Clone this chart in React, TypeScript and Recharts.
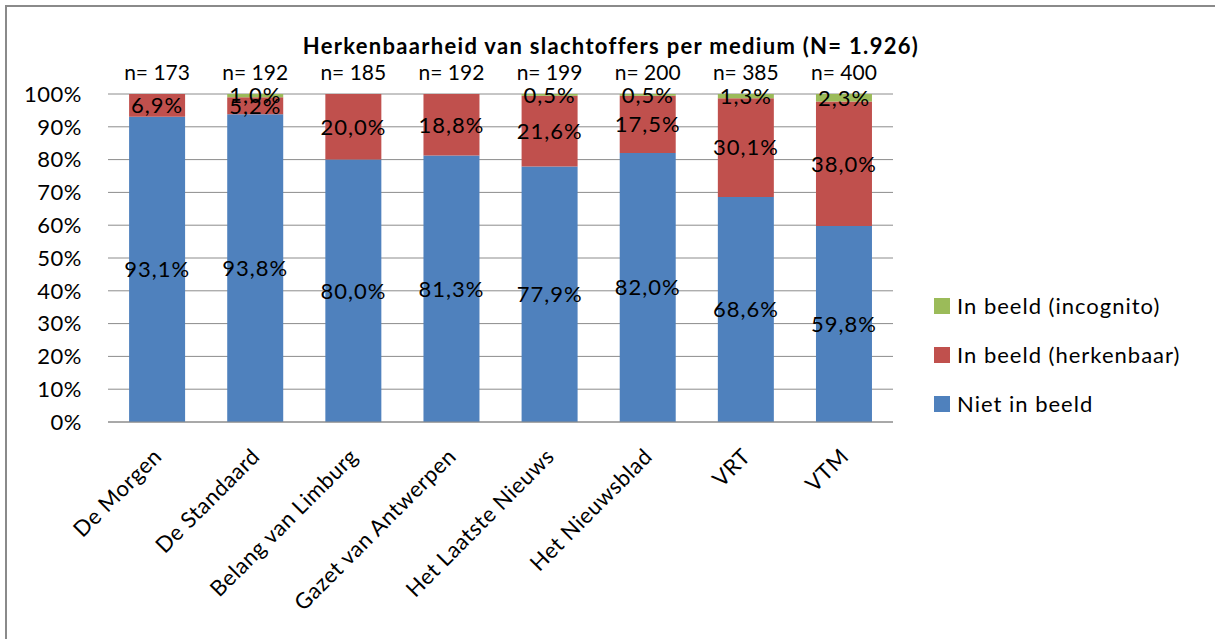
import React from "react";
import { BarChart, Bar, XAxis, YAxis, CartesianGrid, LabelList } from "recharts";

const categories = [
  "De Morgen",
  "De Standaard",
  "Belang van Limburg",
  "Gazet van Antwerpen",
  "Het Laatste Nieuws",
  "Het Nieuwsblad",
  "VRT",
  "VTM",
];
const nCounts = [173, 192, 185, 192, 199, 200, 385, 400];
const nietInBeeld = [93.1, 93.8, 80.0, 81.3, 77.9, 82.0, 68.6, 59.8];
const herkenbaar = [6.9, 5.2, 20.0, 18.8, 21.6, 17.5, 30.1, 38.0];
const incognito = [0, 1.0, 0, 0, 0.5, 0.5, 1.3, 2.3];
const yTicks = [0, 0.1, 0.2, 0.3, 0.4, 0.5, 0.6, 0.7, 0.8, 0.9, 1];

const BLUE = "#4F81BD";
const RED = "#C0504D";
const GREEN = "#9BBB59";
const FONT = "Lato, 'Open Sans', sans-serif";

const data = categories.map((name, i) => ({
  name,
  n: nCounts[i],
  niet: nietInBeeld[i],
  herk: herkenbaar[i],
  inco: incognito[i],
}));

const fmt = (v: number) => (v ? v.toFixed(1).replace(".", ",") + "%" : "");

const XTick = ({ x, y, payload }: any) => (
  <text
    x={x + 6}
    y={y + 28}
    transform={`rotate(-45 ${x + 6} ${y + 28})`}
    textAnchor="end"
    fontSize={22}
    fontFamily={FONT}
    letterSpacing={0.5}
    fill="#000"
  >
    {payload.value}
  </text>
);

const legendItems = [
  { label: "In beeld (incognito)", color: GREEN },
  { label: "In beeld (herkenbaar)", color: RED },
  { label: "Niet in beeld", color: BLUE },
];

const labelStyle = { fontSize: 22, fontFamily: FONT, fill: "#000", letterSpacing: 1 };

export default function App() {
  return (
    <div style={{ position: "absolute", left: 0, top: 0, width: 1215, height: 639, background: "#fff", overflow: "hidden" }}>
      <div
        style={{
          position: "absolute",
          left: 5,
          top: 5,
          width: 1300,
          height: 700,
          border: "2px solid #8a8a8a",
          boxSizing: "border-box",
        }}
      />
      <div
        style={{
          position: "absolute",
          left: 0,
          top: 32,
          width: 1222,
          textAlign: "center",
          fontFamily: FONT,
          fontWeight: 700,
          fontSize: 22,
          letterSpacing: 1.3,
          color: "#000",
        }}
      >
        Herkenbaarheid van slachtoffers per medium (N= 1.926)
      </div>
      <div style={{ position: "absolute", left: 0, top: 0 }}>
        <BarChart
          width={1215}
          height={639}
          data={data}
          stackOffset="expand"
          barCategoryGap="21.5%"
          margin={{ top: 64, right: 322, bottom: 0, left: 28 }}
        >
          <CartesianGrid vertical={false} stroke="#8c8c8c" strokeWidth={1} />
          <XAxis
            dataKey="name"
            interval={0}
            height={217}
            tick={<XTick />}
            tickLine={false}
            axisLine={{ stroke: "#8c8c8c" }}
          />
          <XAxis
            xAxisId="top"
            orientation="top"
            dataKey="n"
            height={30}
            interval={0}
            axisLine={false}
            tickLine={false}
            tickSize={0}
            tickMargin={14}
            tickFormatter={(v: number) => `n= ${v}`}
            tick={{ fontSize: 21, fontFamily: FONT, fill: "#000" }}
          />
          <YAxis
            width={80}
            domain={[0, 1]}
            ticks={yTicks}
            tickFormatter={(v: number) => `${Math.round(v * 100)}%`}
            axisLine={false}
            tickLine={false}
            tickSize={0}
            tickMargin={26}
            tick={{ fontSize: 22, fontFamily: FONT, fill: "#000", letterSpacing: 0.5 } as any}
          />
          <Bar dataKey="niet" stackId="a" fill={BLUE} isAnimationActive={false}>
            <LabelList dataKey="niet" position="center" formatter={fmt as any} {...labelStyle} />
          </Bar>
          <Bar dataKey="herk" stackId="a" fill={RED} isAnimationActive={false}>
            <LabelList dataKey="herk" position="center" formatter={fmt as any} {...labelStyle} />
          </Bar>
          <Bar dataKey="inco" stackId="a" fill={GREEN} isAnimationActive={false}>
            <LabelList dataKey="inco" position="center" formatter={fmt as any} {...labelStyle} />
          </Bar>
        </BarChart>
      </div>
      <div style={{ position: "absolute", left: 934, top: 281, fontFamily: FONT, fontSize: 22, letterSpacing: 1, color: "#000" }}>
        {legendItems.map((it) => (
          <div key={it.label} style={{ display: "flex", alignItems: "center", height: 49 }}>
            <span style={{ display: "inline-block", width: 16, height: 16, background: it.color, marginRight: 7 }} />
            {it.label}
          </div>
        ))}
      </div>
    </div>
  );
}
